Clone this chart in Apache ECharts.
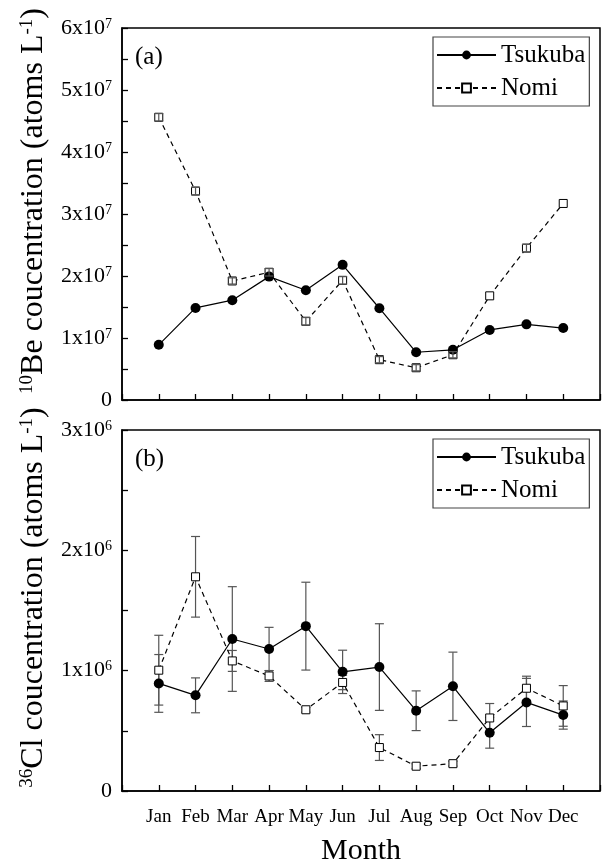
<!DOCTYPE html>
<html>
<head>
<meta charset="utf-8">
<script src="https://cdn.jsdelivr.net/npm/echarts@6/dist/echarts.min.js"></script>
<style>html,body{margin:0;padding:0;background:#fff}#c{width:604px;height:867px}</style>
</head>
<body>
<div id="c"></div>
<script>
const months = ['Jan','Feb','Mar','Apr','May','Jun','Jul','Aug','Sep','Oct','Nov','Dec'];
// Panel (a): 10Be concentration (atoms L-1)
const beTsukuba = [0.89e7, 1.485e7, 1.61e7, 1.99e7, 1.77e7, 2.18e7, 1.48e7, 0.77e7, 0.81e7, 1.13e7, 1.22e7, 1.16e7];
const beNomi    = [4.56e7, 3.37e7, 1.92e7, 2.06e7, 1.27e7, 1.93e7, 0.65e7, 0.52e7, 0.73e7, 1.68e7, 2.45e7, 3.17e7];
const beNomiErr = [0.06e7, 0.06e7, 0.05e7, 0.06e7, 0.06e7, 0.06e7, 0.05e7, 0.05e7, 0.05e7, 0, 0.06e7, 0];
// Panel (b): 36Cl concentration (atoms L-1)
const clTsukuba    = [0.894e6, 0.795e6, 1.263e6, 1.18e6, 1.37e6, 0.99e6, 1.03e6, 0.667e6, 0.87e6, 0.484e6, 0.736e6, 0.631e6];
const clTsukubaErr = [0.24e6, 0.145e6, 0.435e6, 0.18e6, 0.365e6, 0.18e6, 0.36e6, 0.165e6, 0.284e6, 0.128e6, 0.2e6, 0.117e6];
const clNomi       = [1.004e6, 1.78e6, 1.081e6, 0.956e6, 0.675e6, 0.902e6, 0.361e6, 0.206e6, 0.227e6, 0.607e6, 0.854e6, 0.707e6];
const clNomiErr    = [0.29e6, 0.335e6, 0.087e6, 0.045e6, 0.02e6, 0.06e6, 0.107e6, 0.02e6, 0.02e6, 0.12e6, 0.1e6, 0.169e6];
const beTicks = [0, 1e7, 2e7, 3e7, 4e7, 5e7, 6e7];
const clTicks = [0, 1e6, 2e6, 3e6];

const FONT = 'Liberation Serif';
const chart = echarts.init(document.getElementById('c'), null, {renderer: 'canvas'});

function pts(arr) { return arr.map((v, i) => [i + 1, v]); }
function errPts(arr, err) { return arr.map((v, i) => [i + 1, v, err[i]]); }

function errRender(params, api) {
  const x = api.value(0), y = api.value(1), e = api.value(2);
  if (!e) return null;
  const t = api.coord([x, y + e]);
  const b = api.coord([x, y - e]);
  const hw = 4.5;
  const st = {stroke: '#555', lineWidth: 1.2};
  return {type: 'group', children: [
    {type: 'line', shape: {x1: t[0], y1: t[1], x2: b[0], y2: b[1]}, style: st},
    {type: 'line', shape: {x1: t[0] - hw, y1: t[1], x2: t[0] + hw, y2: t[1]}, style: st},
    {type: 'line', shape: {x1: b[0] - hw, y1: b[1], x2: b[0] + hw, y2: b[1]}, style: st}
  ]};
}

function yLabelFmt(exp, ticks) {
  const unit = Math.pow(10, exp);
  return function (v) {
    const hit = ticks.some(t => Math.abs(t - v) < unit * 1e-6);
    if (!hit) return '';
    if (Math.abs(v) < unit * 1e-6) return '{b|0}';
    return '{b|' + Math.round(v / unit) + 'x10}{s|' + exp + '}';
  };
}

const labelRich = {
  b: {fontFamily: FONT, fontSize: 22, color: '#000'},
  s: {fontFamily: FONT, fontSize: 14, color: '#000', verticalAlign: 'top', lineHeight: 14}
};
const nameRich = {
  t: {fontFamily: FONT, fontSize: 32, color: '#000'},
  s: {fontFamily: FONT, fontSize: 19, color: '#000', verticalAlign: 'top', lineHeight: 19}
};

function xAxisCfg(idx, showLabels) {
  return {
    type: 'value', gridIndex: idx, min: 0, max: 13, interval: 1,
    axisLine: {lineStyle: {color: '#000', width: 1.5}},
    axisTick: {inside: true, length: 6, lineStyle: {color: '#000', width: 1.3}},
    splitLine: {show: false},
    axisLabel: {
      show: showLabels, margin: 17, color: '#000', fontFamily: FONT, fontSize: 19,
      formatter: v => (v >= 1 && v <= 12) ? months[v - 1] : ''
    },
    name: showLabels ? 'Month' : '',
    nameLocation: 'middle', nameGap: 45,
    nameTextStyle: {fontFamily: FONT, fontSize: 30, color: '#000'}
  };
}

function yAxisCfg(idx, max, interval, exp, ticks, nameText) {
  return {
    type: 'value', gridIndex: idx, min: 0, max: max, interval: interval,
    axisLine: {show: true, lineStyle: {color: '#000', width: 1.5}},
    axisTick: {show: true, inside: true, length: 6, lineStyle: {color: '#000', width: 1.3}},
    splitLine: {show: false},
    axisLabel: {margin: 10, formatter: yLabelFmt(exp, ticks), rich: labelRich},
    name: nameText,
    nameLocation: 'middle', nameRotate: 90, nameGap: 72,
    nameTextStyle: {rich: nameRich, padding: [0, 0, 0, 26]}
  };
}

function legendCfg(top) {
  return {
    data: ['Tsukuba', 'Nomi'], orient: 'vertical', left: 433, top: top,
    itemWidth: 59, itemHeight: 11, itemGap: 5,
    padding: [4, 4, 4, 3],
    borderColor: '#444', borderWidth: 1.2, borderRadius: 0,
    selectedMode: false,
    textStyle: {fontFamily: FONT, fontSize: 25, color: '#000', lineHeight: 28, padding: [0, 0, 0, 0]}
  };
}

const option = {
  animation: false,
  backgroundColor: '#fff',
  grid: [
    {left: 122, right: 4, top: 28, height: 372, show: true, borderColor: '#000', borderWidth: 1.5},
    {left: 122, right: 4, top: 430, height: 373, show: true, borderColor: '#000', borderWidth: 1.5}
  ],
  legend: [legendCfg(37), legendCfg(439)],
  xAxis: [xAxisCfg(0, false), xAxisCfg(1, true)],
  yAxis: [
    yAxisCfg(0, 6e7, 0.5e7, 7, beTicks, '{s|10}{t|Be coucentration (atoms L}{s|-1}{t|)}'),
    yAxisCfg(1, 3e6, 0.5e6, 6, clTicks, '{s|36}{t|Cl coucentration (atoms L}{s|-1}{t|)}')
  ],
  graphic: [
    {type: 'text', left: 135, top: 45, style: {text: '(a)', font: '25px "Liberation Serif"', fill: '#000'}},
    {type: 'text', left: 135, top: 447, style: {text: '(b)', font: '25px "Liberation Serif"', fill: '#000'}}
  ],
  series: [
    {name: 'Nomi', type: 'line', xAxisIndex: 0, yAxisIndex: 0, data: pts(beNomi), z: 2,
     symbol: 'rect', symbolSize: 8,
     lineStyle: {color: '#000', width: 1.2, type: [5, 4]},
     itemStyle: {color: '#fff', borderColor: '#000', borderWidth: 1}},
    {name: 'Tsukuba', type: 'line', xAxisIndex: 0, yAxisIndex: 0, data: pts(beTsukuba), z: 3,
     symbol: 'circle', symbolSize: 10,
     lineStyle: {color: '#000', width: 1.2, type: 'solid'},
     itemStyle: {color: '#000'}},
    {name: 'be-nomi-err', type: 'custom', xAxisIndex: 0, yAxisIndex: 0, z: 4,
     data: errPts(beNomi, beNomiErr), renderItem: errRender},

    {name: 'cl-tsukuba-err', type: 'custom', xAxisIndex: 1, yAxisIndex: 1, z: 1,
     data: errPts(clTsukuba, clTsukubaErr), renderItem: errRender},
    {name: 'cl-nomi-err', type: 'custom', xAxisIndex: 1, yAxisIndex: 1, z: 1,
     data: errPts(clNomi, clNomiErr), renderItem: errRender},
    {name: 'Nomi', type: 'line', xAxisIndex: 1, yAxisIndex: 1, data: pts(clNomi), z: 2,
     symbol: 'rect', symbolSize: 8,
     lineStyle: {color: '#000', width: 1.2, type: [5, 4]},
     itemStyle: {color: '#fff', borderColor: '#000', borderWidth: 1}},
    {name: 'Tsukuba', type: 'line', xAxisIndex: 1, yAxisIndex: 1, data: pts(clTsukuba), z: 3,
     symbol: 'circle', symbolSize: 10,
     lineStyle: {color: '#000', width: 1.2, type: 'solid'},
     itemStyle: {color: '#000'}}
  ]
};
chart.setOption(option);
</script>
</body>
</html>
